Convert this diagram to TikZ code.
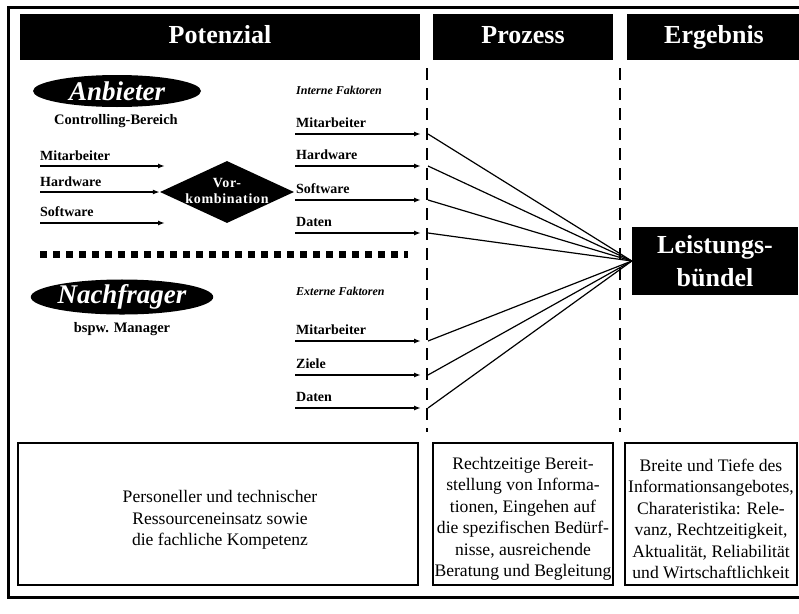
\documentclass[tikz,border=0pt]{standalone}
\usepackage{fontspec}
\setmainfont{Liberation Serif}
\newfontfamily\spacedbf[LetterSpace=5]{Liberation Serif}
\usetikzlibrary{shapes.geometric,arrows.meta}
\begin{document}
\begin{tikzpicture}[x=1pt,y=-1pt,
  hdr/.style={fill=black,text=white,inner sep=0,font=\fontsize{26}{33}\selectfont\bfseries},
  hdrone/.style={hdr,text height=18pt,text depth=5pt},
  oval/.style={ellipse,fill=black,text=white,inner sep=0,font=\fontsize{27}{30}\selectfont\bfseries\itshape},
  lbl/.style={anchor=base west,inner sep=0,font=\fontsize{14}{16}\selectfont\bfseries},
  captext/.style={inner sep=0,font=\fontsize{14.5}{16}\selectfont\bfseries},
  fak/.style={anchor=west,inner sep=0,font=\fontsize{12}{14}\selectfont\bfseries\itshape},
  arr/.style={line width=1.4pt,-{Latex[length=7pt,width=5pt]}},
  fan/.style={line width=1.2pt},
  vdash/.style={line width=2.6pt,dash pattern=on 12pt off 8pt},
  sq/.style={line width=7pt,dash pattern=on 7pt off 6pt},
  box/.style={draw,line width=1.3pt,inner sep=0},
  btext/.style={inner sep=0,align=center,font=\fontsize{17.6}{21.5}\selectfont}
]
\useasboundingbox (0,0) rectangle (799,613);
% outer frame
\draw[line width=3pt] (8,7) rectangle (806,597);
% headers
\node[hdrone,minimum width=400,minimum height=46] (pot) at (220,37) {Potenzial};
\node[hdrone,minimum width=180,minimum height=46] (proz) at (523,37) {Prozess};
\node[hdrone,minimum width=174,minimum height=46] (erg) at (714,37) {Ergebnis};
% dashed separators
\coordinate (d1t) at (427,68); \coordinate (d1b) at (427,432);
\coordinate (d2t) at (620,68); \coordinate (d2b) at (620,432);
\draw[vdash] (d1t) -- (d1b);
\draw[vdash] (d2t) -- (d2b);
% Anbieter
\node[oval,minimum width=168,minimum height=32] (anb) at (117,91) {Anbieter};
\node[captext] (cb) at (116,121) {Controlling-Bereich};
% Nachfrager
\node[oval,minimum width=170,minimum height=32] (nach) at (122,297) {Nachfrager};
\node[captext] (bm) at (122,329) {bspw. Manager};
% factor titles
\node[fak] (intf) at (296,90) {Interne Faktoren};
\node[fak] (extf) at (296,291) {Externe Faktoren};
% Leistungsbuendel
\node[hdr,minimum width=166,minimum height=68,align=center] (lb) at (715,261) {Leistungs-\\bündel};
% Vorkombination
\node[diamond,fill=black,minimum width=134,minimum height=62,inner sep=0] (vk) at (227,192) {};
\node[inner sep=0,text=white,align=center,font=\fontsize{14}{16}\spacedbf\bfseries] (vkt) at (227,191) {Vor-\\kombination};
% left list
\coordinate (lm1) at (40,166); \coordinate (lm2) at (165,166);
\coordinate (lh1) at (40,192);
\coordinate (ls1) at (40,223); \coordinate (ls2) at (165,223);
\node[lbl] (tlm) at (40,160) {Mitarbeiter};
\node[lbl] (tlh) at (40,186) {Hardware};
\node[lbl] (tls) at (40,216) {Software};
\draw[arr] (lm1) -- (lm2);
\draw[arr] (lh1) -- (vk.west);
\draw[arr] (ls1) -- (ls2);
% dotted separator
\coordinate (sq1) at (40,254); \coordinate (sq2) at (408,254);
\draw[sq] (sq1) -- (sq2);
% factor arrows and fan
\foreach \y/\n/\t in {134/i1/Mitarbeiter,166/i2/Hardware,200/i3/Software,233/i4/Daten,341/e1/Mitarbeiter,375/e2/Ziele,408/e3/Daten} {
  \coordinate (\n s) at (295,\y);
  \coordinate (\n e) at (421,\y);
  \coordinate (\n f) at (428,\y);
  \node[lbl] (\n t) at (296,\y-7) {\t};
  \draw[arr] (\n s) -- (\n e);
  \draw[fan] (\n f) -- (lb.west);
}
% bottom boxes
\node[box,minimum width=400,minimum height=142] (b1) at (218,514) {};
\node[btext] (b1t) at (220,520) {Personeller und technischer\\Ressourceneinsatz sowie\\die fachliche Kompetenz};
\node[box,minimum width=180,minimum height=142] (b2) at (523,514) {};
\node[btext] (b2t) at (523,519) {Rechtzeitige Bereit-\\stellung von Informa-\\tionen, Eingehen auf\\die spezifischen Bedürf-\\nisse, ausreichende\\Beratung und Begleitung};
\node[box,minimum width=172,minimum height=142] (b3) at (711,514) {};
\node[btext] (b3t) at (711,519) {Breite und Tiefe des\\Informationsangebotes,\\Charateristika: Rele-\\vanz, Rechtzeitigkeit,\\Aktualität, Reliabilität\\und Wirtschaftlichkeit};
\end{tikzpicture}
\end{document}
